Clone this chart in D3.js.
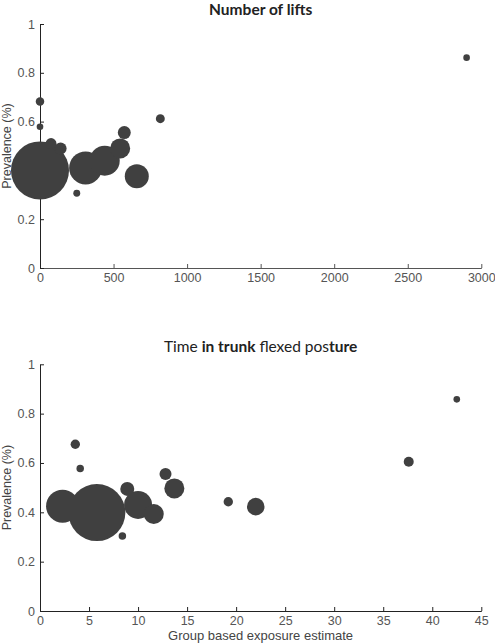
<!DOCTYPE html>
<html>
<head>
<meta charset="utf-8">
<script src="https://cdn.jsdelivr.net/npm/d3@7"></script>
<style>
  body { margin: 0; background: #fff; }
  svg { display: block; }
</style>
</head>
<body>
<svg id="chart" width="495" height="644"></svg>
<script>
// panel 1: number of lifts
const liftsX = [0, 310, 440, 545, 573, 658, 0, 0, 250, 818, 2900, 75, 140];
const liftsPrev = [0.40, 0.41, 0.44, 0.49, 0.555, 0.376, 0.682, 0.579, 0.306, 0.612, 0.862, 0.51, 0.49];
const liftsN = [841, 272, 225, 100, 42, 144, 18, 11, 12, 20, 11, 30, 36];
const liftsTicks = [0, 500, 1000, 1500, 2000, 2500, 3000];

// panel 2: time in trunk flexed posture
const trunkX = [5.8, 2.3, 10.0, 11.6, 13.7, 12.8, 8.9, 3.6, 4.1, 8.4, 19.2, 22.0, 37.6, 42.5];
const trunkPrev = [0.399, 0.425, 0.43, 0.393, 0.497, 0.555, 0.495, 0.676, 0.578, 0.304, 0.443, 0.423, 0.605, 0.858];
const trunkN = [812, 272, 196, 100, 100, 36, 49, 22, 14, 14, 22, 77, 25, 11];
const trunkTicks = [0, 5, 10, 15, 20, 25, 30, 35, 40, 45];

const prevTicks = [0, 0.2, 0.4, 0.6, 0.8, 1];

const svg = d3.select("#chart");
const bubbleColor = "#404040";
const labelFont = "'Liberation Sans', Arial, sans-serif";

const r = d3.scaleSqrt().domain([0, 841]).range([0, 29]);

const drawPanel = (opts) => {
  const { xs, ys, ns, xMax, xTicks, top, bottom, titleParts, titleY, titleSize, xAxisColor } = opts;
  const left = 40, right = 481.3;

  const x = d3.scaleLinear().domain([0, xMax]).range([left, right]);
  const y = d3.scaleLinear().domain([0, 1]).range([bottom, top]);

  const g = svg.append("g");

  // x axis, ticks pointing inward
  g.append("g")
    .attr("transform", `translate(0,${bottom})`)
    .call(d3.axisBottom(x).tickValues(xTicks).tickSize(-4).tickSizeOuter(0).tickPadding(5).tickFormat(d3.format("d")))
    .call(a => a.selectAll(".domain, .tick line").attr("stroke", xAxisColor))
    .call(a => a.selectAll(".tick text").attr("fill", "#555").style("font", `12.5px ${labelFont}`));

  g.append("g")
    .attr("transform", `translate(${left},0)`)
    .call(d3.axisLeft(y).tickValues(prevTicks).tickSize(-4).tickSizeOuter(0).tickPadding(5).tickFormat(d3.format("~g")))
    .call(a => a.selectAll(".domain, .tick line").attr("stroke", "#222"))
    .call(a => a.selectAll(".tick text").attr("fill", "#555").style("font", `12.5px ${labelFont}`));

  // y axis title
  g.append("text")
    .attr("transform", `translate(11,${(top + bottom) / 2}) rotate(-90)`)
    .attr("text-anchor", "middle")
    .attr("fill", "#444")
    .style("font", `12.5px ${labelFont}`)
    .text("Prevalence (%)");

  // title, weights mixed like the source image
  const t = g.append("text")
    .attr("x", (left + right) / 2)
    .attr("y", titleY)
    .attr("text-anchor", "middle")
    .attr("fill", "#222")
    .style("font-family", "Lato, 'Open Sans', sans-serif")
    .style("font-size", titleSize + "px");
  titleParts.forEach(p => {
    t.append("tspan").attr("font-weight", p[1]).text(p[0]);
  });

  // bubbles, biggest first so small ones stay visible
  const pts = xs.map((v, i) => ({ x: v, y: ys[i], n: ns[i] }))
    .sort((a, b) => b.n - a.n);

  g.append("g")
    .selectAll("circle")
    .data(pts)
    .enter().append("circle")
    .attr("cx", d => x(d.x))
    .attr("cy", d => y(d.y))
    .attr("r", d => r(d.n))
    .attr("fill", bubbleColor);
};

drawPanel({
  xs: liftsX, ys: liftsPrev, ns: liftsN, xMax: 3000, xTicks: liftsTicks,
  top: 24, bottom: 268, titleY: 15, titleSize: 15.5, xAxisColor: "#555",
  titleParts: [["Number of lifts", 700]]
});

drawPanel({
  xs: trunkX, ys: trunkPrev, ns: trunkN, xMax: 45, xTicks: trunkTicks,
  top: 364.3, bottom: 611, titleY: 352, titleSize: 15.5, xAxisColor: "#222",
  titleParts: [["Time ", 400], ["in trunk", 700], [" flexed pos", 400], ["ture", 700]]
});

// x axis title for the lower panel
svg.append("text")
  .attr("x", 260.6)
  .attr("y", 640)
  .attr("text-anchor", "middle")
  .attr("fill", "#444")
  .style("font", `13px ${labelFont}`)
  .text("Group based exposure estimate");
</script>
</body>
</html>
